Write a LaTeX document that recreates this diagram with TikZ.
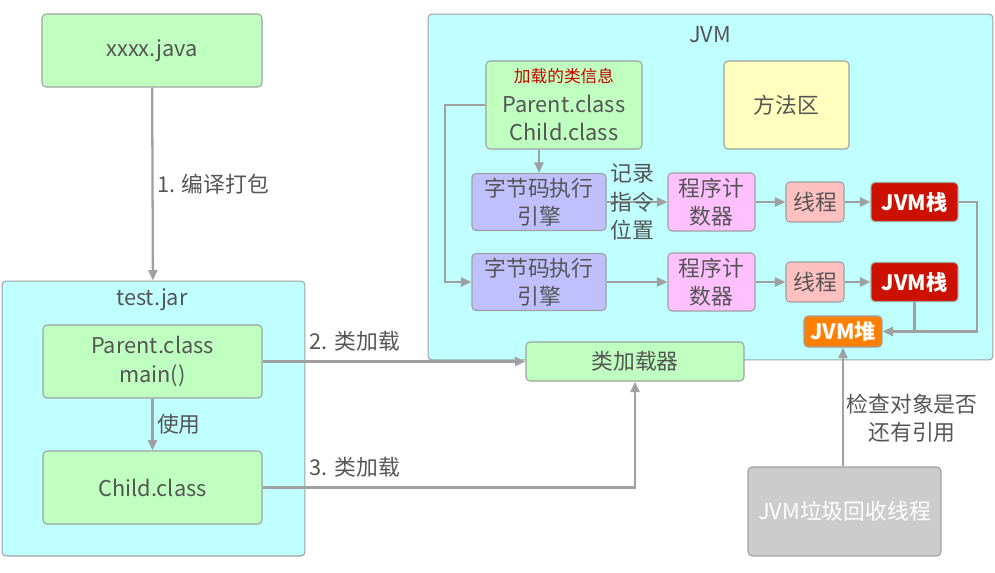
\documentclass[tikz,border=0pt]{standalone}
\usepackage{fontspec}
\setmainfont{Noto Sans CJK SC}
\usetikzlibrary{arrows.meta}
\definecolor{txtgray}{HTML}{555555}
\definecolor{edge}{HTML}{A0A0A0}
\definecolor{wire}{HTML}{A0A0A0}
\definecolor{cyanbg}{HTML}{BFFFFF}
\definecolor{greenbox}{HTML}{BFFFBF}
\definecolor{yellowbox}{HTML}{FFFFC0}
\definecolor{lilacbox}{HTML}{C0C0FF}
\definecolor{pinkbox}{HTML}{FFC0FF}
\definecolor{rosebox}{HTML}{FFC0C0}
\definecolor{stackred}{HTML}{CC1100}
\definecolor{heaporange}{HTML}{FF8000}
\definecolor{gcgray}{HTML}{CCCCCC}
\definecolor{infored}{HTML}{CC0000}
\begin{document}
\begin{tikzpicture}[x=0.02cm, y=-0.02cm, font=\fontsize{12.4}{16}\selectfont, text=txtgray,
  box/.style={draw=edge, line width=0.6pt, rounded corners=0.08cm, align=center, inner sep=0pt},
  area/.style={box, fill=cyanbg},
  cls/.style={box, fill=greenbox},
  hot/.style={box, text=white, font=\fontsize{12}{14}\selectfont\bfseries},
  lbl/.style={align=center, inner sep=2pt},
  arr/.style={draw=wire, line width=1.3pt, -{Triangle[length=0.21cm,width=0.18cm]}},
  wire/.style={draw=wire, line width=1.3pt}]
\useasboundingbox (0,0) rectangle (995,572);
% containers
\node[area, minimum width=6.06cm, minimum height=5.5cm] (jar) at (153.5,418.5) {};
\node[lbl] (jartitle) at (152,300) {test.jar};
\node[area, minimum width=11.3cm, minimum height=6.92cm] (jvm) at (710.5,187) {};
\node[lbl] (jvmtitle) at (710,35) {JVM};
% source and jar content
\node[cls, minimum width=4.4cm, minimum height=1.46cm] (java) at (152,50.5) {xxxx.java};
\node[cls, minimum width=4.38cm, minimum height=1.46cm] (parent) at (152.5,361.5) {Parent.class\\main()};
\node[cls, minimum width=4.38cm, minimum height=1.46cm] (child) at (152.5,487.5) {Child.class};
% jvm content
\node[cls, minimum width=3.12cm, minimum height=1.76cm] (info) at (564,105)
  {{\color{infored}\fontsize{9.5}{12}\selectfont 加载的类信息}\\[1pt]Parent.class\\Child.class};
\node[box, fill=yellowbox, minimum width=2.5cm, minimum height=1.76cm] (method) at (786.5,105) {方法区};
\foreach \r/\y in {1/202,2/282} {
  \node[box, fill=lilacbox, minimum width=2.68cm, minimum height=1.14cm] (eng\r) at (539,\y) {字节码执行\\引擎};
  \node[box, fill=pinkbox, minimum width=1.74cm, minimum height=1.16cm] (pc\r) at (711.5,\y) {程序计\\数器};
  \node[box, fill=rosebox, minimum width=1.16cm, minimum height=0.8cm] (th\r) at (815,\y) {线程};
  \node[hot, fill=stackred, minimum width=1.74cm, minimum height=0.78cm] (st\r) at (914.5,\y) {JVM栈};
  \draw[arr] (eng\r) -- (pc\r);
  \draw[arr] (pc\r) -- (th\r);
  \draw[arr] (th\r) -- (st\r);
}
\node[lbl] (rec) at (632,202) {记录\\指令\\位置};
\node[hot, fill=heaporange, minimum width=1.56cm, minimum height=0.62cm] (heap) at (843,331.5) {JVM堆};
\node[cls, minimum width=4.36cm, minimum height=0.78cm] (loader) at (635,361.5) {类加载器};
\node[box, fill=gcgray, text=white, minimum width=3.86cm, minimum height=1.78cm] (gc) at (844.5,511.5) {JVM垃圾回收线程};
% connectors
\draw[arr] (java) -- node[lbl, right] (build) {1. 编译打包} (jar);
\draw[arr] (parent) -- node[lbl, right] (use) {使用} (child);
\draw[arr] (parent) -- (loader);
\node[lbl, anchor=west] (load2) at (306,341) {2. 类加载};
\draw[arr] (child) -| (loader);
\node[lbl, anchor=west] (load3) at (306,467) {3. 类加载};
\draw[arr] (info.south -| eng1.north) -- (eng1.north);
\coordinate (lbend) at (445,282);
\draw[arr] (info.west) -| (lbend) -- (eng2.west);
\coordinate (rbend) at (977,331.5);
\draw[arr] (st1.east) -| (rbend) -- (heap.east);
\draw[wire] (st2.south) -- (st2.south |- heap.east);
\draw[arr] (gc.north -| heap.south) -- (heap.south);
\node[lbl] (check) at (912,418) {检查对象是否\\还有引用};
\end{tikzpicture}
\end{document}
